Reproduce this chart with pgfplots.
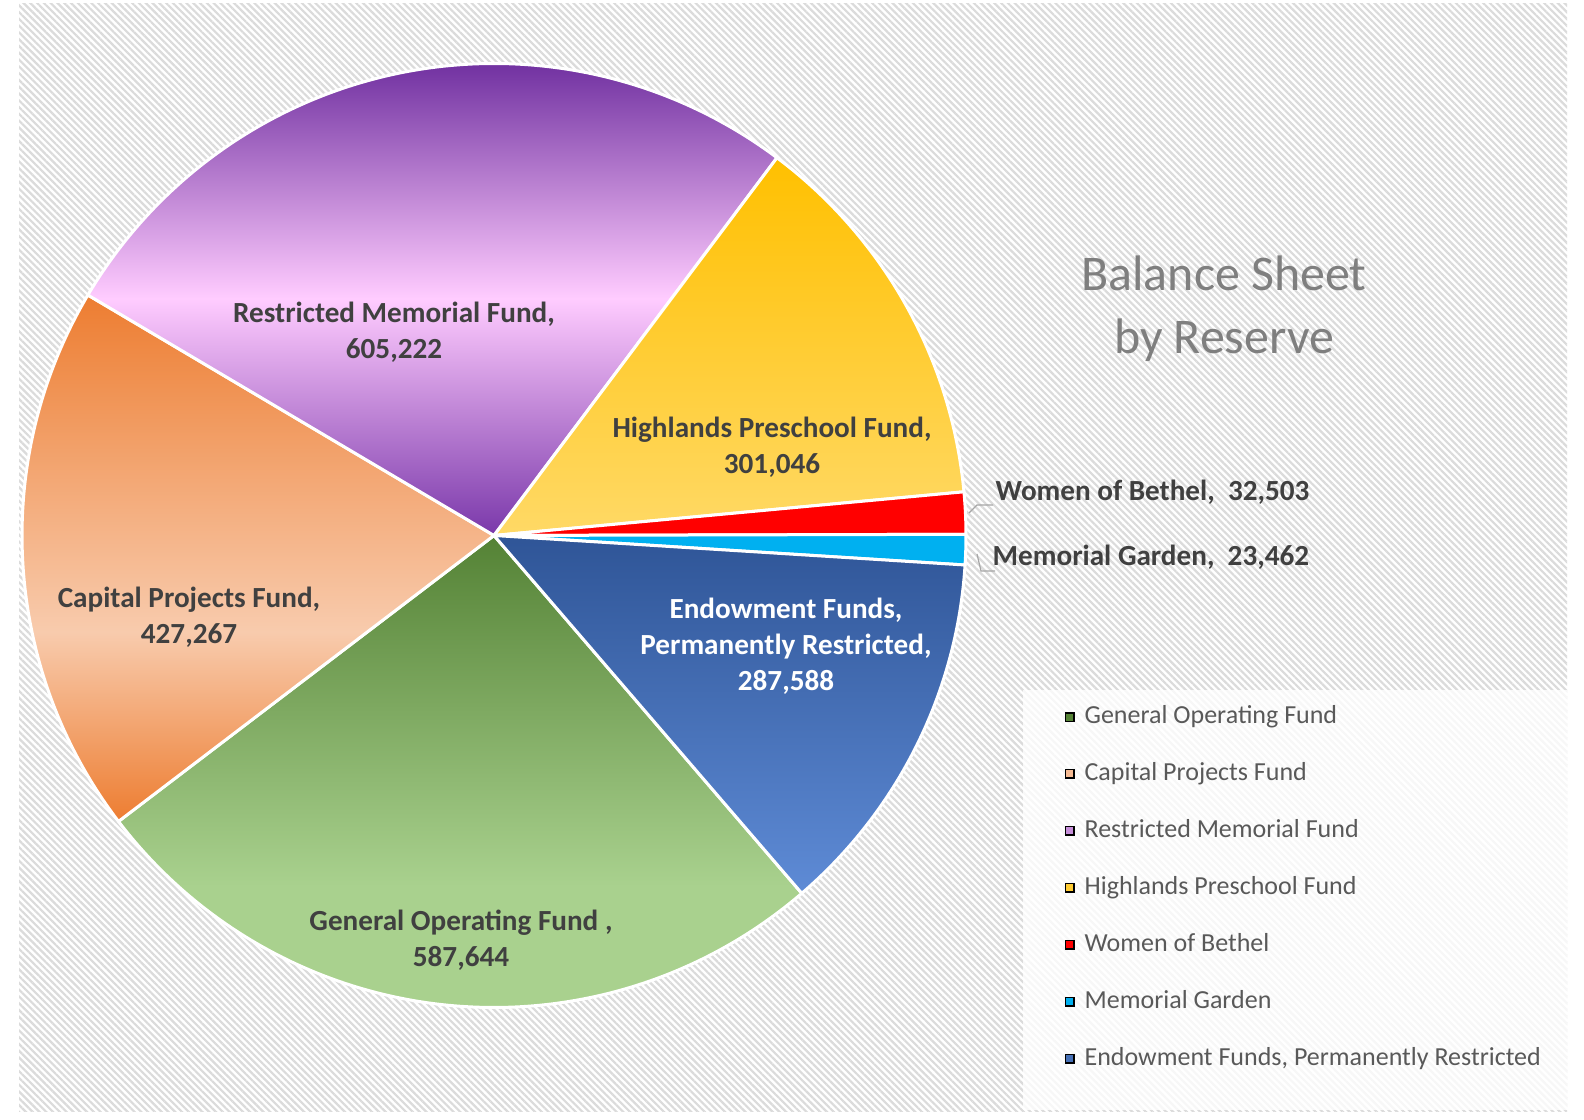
\documentclass[border=0pt]{standalone}
\usepackage{pgfplots}
\pgfplotsset{compat=1.18}
\usepackage{fontspec}
\setmainfont{Carlito}
\usetikzlibrary{patterns.meta}

% slice colours
\definecolor{genD}{HTML}{548235}
\definecolor{genL}{HTML}{A9D18E}
\definecolor{capD}{HTML}{ED7D31}
\definecolor{capL}{HTML}{F8CBAD}
\definecolor{resD}{HTML}{7030A0}
\definecolor{resB}{HTML}{7A38AA}
\definecolor{resL}{HTML}{FFCCFF}
\definecolor{higD}{HTML}{FFC000}
\definecolor{higL}{HTML}{FFD966}
\definecolor{womC}{HTML}{FF0000}
\definecolor{memC}{HTML}{00B0F0}
\definecolor{endD}{HTML}{2F5597}
\definecolor{endL}{HTML}{5E8BD6}
% text
\definecolor{lblgray}{HTML}{404040}
\definecolor{leggray}{HTML}{595959}
\definecolor{titlegray}{HTML}{7F7F7F}

\pgfdeclareverticalshading{genshade}{100bp}{color(0bp)=(genL); color(25bp)=(genL); color(40bp)=(genL); color(75bp)=(genD); color(100bp)=(genD)}
\pgfdeclareverticalshading{capshade}{100bp}{color(0bp)=(capD); color(25bp)=(capD); color(43bp)=(capL); color(75bp)=(capD); color(100bp)=(capD)}
\pgfdeclareverticalshading{resshade}{100bp}{color(0bp)=(resB); color(25bp)=(resB); color(50bp)=(resL); color(75bp)=(resD); color(100bp)=(resD)}
\pgfdeclareverticalshading{higshade}{100bp}{color(0bp)=(higL); color(25bp)=(higL); color(75bp)=(higD); color(100bp)=(higD)}
\pgfdeclareverticalshading{womshade}{100bp}{color(0bp)=(womC); color(100bp)=(womC)}
\pgfdeclareverticalshading{memshade}{100bp}{color(0bp)=(memC); color(100bp)=(memC)}
\pgfdeclareverticalshading{endshade}{100bp}{color(0bp)=(endL); color(25bp)=(endL); color(75bp)=(endD); color(100bp)=(endD)}

% value/shading, clockwise from the first slice
\def\funds{587644/genshade, 427267/capshade, 605222/resshade, 301046/higshade, 32503/womshade, 23462/memshade, 287588/endshade}

\begin{document}
\begin{tikzpicture}
\begin{axis}[
    x=1cm, y=1cm,
    xmin=0, xmax=15.84, ymin=0, ymax=11.2,
    hide axis, clip=false,
    legend image code/.code={\fill[#1] (0cm,-0.042cm) rectangle (0.085cm,0.042cm);},
    legend cell align=left,
    legend style={at={(axis cs:10.64,4.163)}, anchor=north west,
        draw=none, fill=none, inner sep=0pt,
        font=\fontsize{7.4}{9}\selectfont, text=leggray,
        row sep=9pt,
        nodes={inner ysep=0pt, inner xsep=0pt, text height=5.5pt, text depth=1.7pt},
        /tikz/every odd column/.append style={column sep=0.1cm}},
]
\coordinate (pageBL) at (axis cs:0,0);
\coordinate (pageTR) at (axis cs:15.84,11.2);
% page and hatched background
\fill[white] (axis cs:0,0) rectangle (axis cs:15.84,11.2);
\fill[pattern={Lines[angle=-45,distance=0.048cm,line width=0.022cm]}, pattern color=black!14]
    (axis cs:0.19,0.08) rectangle (axis cs:15.67,11.16);
% legend panel
\fill[white, opacity=0.78] (axis cs:10.23,0.1) rectangle (axis cs:15.67,4.3);

% pie wedges
\pgfplotsextra{
  \xdef\tot{0}
  \foreach \v/\sh in \funds {\xdef\tot{\fpeval{\tot+\v}}}
  \xdef\angA{-49.3}
  \foreach \v/\sh in \funds {
    \edef\angB{\fpeval{\angA-\v*360/\tot}}
    \shadedraw[shading=\sh, draw=white, line width=0.03cm, line join=round]
      (axis cs:4.94,5.845) -- ++(\angA:4.72cm)
      arc[start angle=\angA, end angle=\angB, radius=4.72cm] -- cycle;
    \xdef\angA{\angB}
  }
}

% data labels
\tikzset{lbl/.style={font=\fontsize{8.3}{10.2}\selectfont\bfseries, text=lblgray, align=center, inner sep=0pt}}
\node[lbl] at (axis cs:3.94,7.88) {Restricted Memorial Fund,\\605,222};
\node[lbl] at (axis cs:7.72,6.725) {Highlands Preschool Fund,\\301,046};
\node[lbl] at (axis cs:1.89,5.025) {Capital Projects Fund,\\427,267};
\node[lbl] at (axis cs:4.61,1.80) {General Operating Fund ,\\587,644};
\node[lbl, text=white] at (axis cs:7.86,4.74) {Endowment Funds,\\Permanently Restricted,\\287,588};
\node[lbl, anchor=west] at (axis cs:9.95,6.28) {Women of Bethel,\ \ 32,503};
\node[lbl, anchor=west] at (axis cs:9.92,5.63) {Memorial Garden,\ \ 23,462};
% leader lines
\draw[black!35, line width=0.012cm] (axis cs:9.69,6.07) -- (axis cs:9.77,6.15) -- (axis cs:9.93,6.15);
\draw[black!35, line width=0.012cm] (axis cs:9.77,5.66) -- (axis cs:9.81,5.49) -- (axis cs:9.95,5.49);

% title
\node[font=\fontsize{14.2}{18}\selectfont, text=titlegray, align=center] at (axis cs:12.24,8.115) {Balance Sheet\\by Reserve};

% legend
\addlegendimage{fill=genD}
\addlegendimage{fill=capL!80!capD}
\addlegendimage{fill=resL!60!resD}
\addlegendimage{fill=higD!50!higL}
\addlegendimage{fill=womC}
\addlegendimage{fill=memC}
\addlegendimage{fill=endD!50!endL}
\legend{General Operating Fund, Capital Projects Fund, Restricted Memorial Fund, Highlands Preschool Fund, Women of Bethel, Memorial Garden, {Endowment Funds, Permanently Restricted}}
\end{axis}
\pgfresetboundingbox
\path[use as bounding box] (pageBL) rectangle (pageTR);
\end{tikzpicture}
\end{document}
